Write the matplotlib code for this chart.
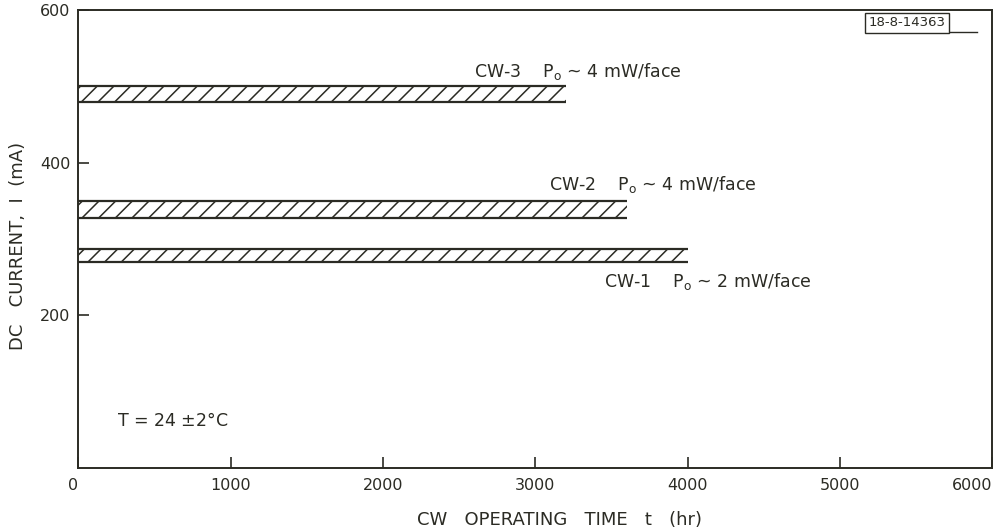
import matplotlib
matplotlib.use("Agg")
import matplotlib.pyplot as plt

# bars (mA ranges, hours)
devices = ["CW-1", "CW-2", "CW-3"]
current_low = [270, 328, 480]
current_high = [287, 350, 500]
hours = [4000, 3600, 3200]
power_labels = ["2", "4", "4"]
label_x = [3450, 3090, 2600]
label_y = [245, 371, 519]

xticks = [0, 1000, 2000, 3000, 4000, 5000, 6000]
yticks = [200, 400, 600]

ink = "#2b2b24"
plt.rcParams["hatch.linewidth"] = 1.1
plt.rcParams["hatch.color"] = ink
plt.rcParams["font.family"] = "DejaVu Sans"

fig = plt.figure(figsize=(9.96, 5.32), dpi=100)
ax = fig.add_axes([0.0788, 0.1203, 0.9172, 0.8607])

for i in range(len(devices)):
    h = current_high[i] - current_low[i]
    ax.bar(0, h, width=hours[i], bottom=current_low[i], align="edge",
           facecolor="white", edgecolor=ink, linewidth=0, hatch="//")
    ax.hlines([current_low[i], current_high[i]], 0, hours[i], color=ink, lw=1.6)
    ax.text(label_x[i], label_y[i],
            devices[i] + "    P$_\\mathregular{o}$ ~ " + power_labels[i] + " mW/face",
            fontsize=12.5, color=ink, va="center", ha="left")

ax.text(250, 62, "T = 24 $\\mathregular{\\pm}$2°C", fontsize=12.5, color=ink, va="center")

# drawing number tag in the corner
ax.text(0.907, 0.972, "18-8-14363", transform=ax.transAxes, fontsize=9.5, color=ink,
        ha="center", va="center",
        bbox=dict(boxstyle="square,pad=0.25", facecolor="white", edgecolor=ink, lw=1.0))
ax.plot([0.862, 0.874], [0.991, 0.991], transform=ax.transAxes, color=ink, lw=1.0)
ax.plot([0.874, 0.984], [0.952, 0.952], transform=ax.transAxes, color=ink, lw=1.0)

ax.set_xlim(0, 6000)
ax.set_ylim(0, 600)
ax.set_xticks(xticks)
ax.set_yticks(yticks)
ax.tick_params(direction="in", length=8, width=1.2, color=ink, labelcolor=ink,
               labelsize=11.5)
ax.tick_params(axis="x", pad=7)
ax.tick_params(axis="y", pad=6)
xl = ax.get_xticklabels()
xl[0].set_ha("right")
xl[-1].set_ha("right")
for s in ax.spines.values():
    s.set_color(ink)
    s.set_linewidth(1.4)

ax.set_xlabel("CW   OPERATING   TIME   t   (hr)", fontsize=13, color=ink)
ax.xaxis.set_label_coords(0.527, -0.093)
ax.set_ylabel("DC   CURRENT,  I  (mA)", fontsize=13, color=ink)
ax.yaxis.set_label_coords(-0.056, 0.485)

fig.savefig("out.png", dpi=100)
